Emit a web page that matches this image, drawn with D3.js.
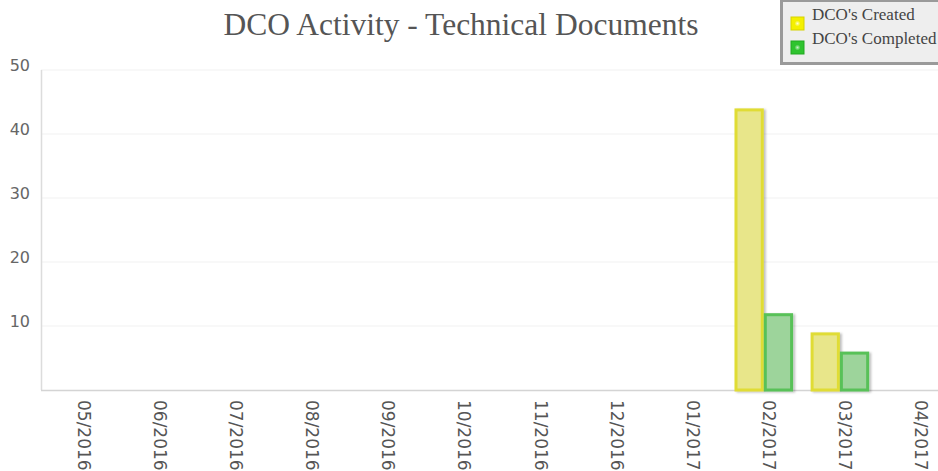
<!DOCTYPE html>
<html>
<head>
<meta charset="utf-8">
<script src="https://cdn.jsdelivr.net/npm/d3@7"></script>
<style>
  body { margin: 0; background: #fff; }
  svg { display: block; }
</style>
</head>
<body>
<svg id="chart" width="938" height="471"></svg>
<script>
// chart values
const months = ["05/2016", "06/2016", "07/2016", "08/2016", "09/2016", "10/2016",
                "11/2016", "12/2016", "01/2017", "02/2017", "03/2017", "04/2017"];
const created = [0, 0, 0, 0, 0, 0, 0, 0, 0, 44, 9, 0];
const completed = [0, 0, 0, 0, 0, 0, 0, 0, 0, 12, 6, 0];
const yTicks = [10, 20, 30, 40, 50];
const seriesNames = ["DCO's Created", "DCO's Completed"];

const svg = d3.select("#chart");
const W = 938;

const x = d3.scaleBand().domain(months).range([41, 954]).padding(0);
const y = d3.scaleLinear().domain([0, 50]).range([390, 70]);
const barW = 29.3;

// drop shadow for bars
const defs = svg.append("defs");
const f = defs.append("filter").attr("id", "shadow")
  .attr("x", "-20%").attr("y", "-5%").attr("width", "150%").attr("height", "115%");
f.append("feDropShadow").attr("dx", 2).attr("dy", 1).attr("stdDeviation", 1.2)
  .attr("flood-color", "#000").attr("flood-opacity", 0.25);

[["gYel", "#ffffd0", "#f4f000"], ["gGrn", "#c8f0c8", "#2fc42f"]].forEach(([id, c0, c1]) => {
  const g = defs.append("radialGradient").attr("id", id);
  g.append("stop").attr("offset", "0%").attr("stop-color", c0);
  g.append("stop").attr("offset", "45%").attr("stop-color", c1);
  g.append("stop").attr("offset", "100%").attr("stop-color", c1);
});

// gridlines
svg.append("g").selectAll("line")
  .data(yTicks)
  .join("line")
    .attr("x1", 41).attr("x2", W)
    .attr("y1", d => y(d)).attr("y2", d => y(d))
    .attr("stroke", "#f1f1f1");

// axes lines
svg.append("line").attr("x1", 41.5).attr("x2", 41.5).attr("y1", y(50)).attr("y2", y(0))
  .attr("stroke", "#dcdcdc").attr("stroke-width", 1.5);
svg.append("line").attr("x1", 41).attr("x2", W).attr("y1", y(0) + 0.5).attr("y2", y(0) + 0.5)
  .attr("stroke", "#d4d4d4").attr("stroke-width", 1.5);

// y labels
svg.append("g").selectAll("text")
  .data(yTicks)
  .join("text")
    .attr("x", 30)
    .attr("y", d => y(d) - 4)
    .attr("text-anchor", "end")
    .attr("dominant-baseline", "middle")
    .attr("font-family", "DejaVu Sans")
    .attr("font-size", 16)
    .attr("fill", "#666")
    .text(d => d);

// x labels
svg.append("g").selectAll("text")
  .data(months)
  .join("text")
    .attr("transform", d => `translate(${x(d) + x.bandwidth() / 2 - 1},400) rotate(90)`)
    .attr("text-anchor", "start")
    .attr("font-family", "DejaVu Sans")
    .attr("font-size", 17)
    .attr("fill", "#555")
    .text(d => d);

// bars
const series = [
  { vals: created, fill: "#e8e68a", stroke: "#e0dc34", off: -barW },
  { vals: completed, fill: "#9dd49b", stroke: "#58c158", off: 0 }
];
series.forEach(s => {
  svg.append("g").attr("filter", "url(#shadow)").selectAll("rect")
    .data(months.map((m, i) => ({ m, v: s.vals[i] })).filter(d => d.v > 0))
    .join("rect")
      .attr("x", d => x(d.m) + x.bandwidth() / 2 + s.off + 1.5)
      .attr("y", d => y(d.v) + 1.5)
      .attr("width", barW - 3)
      .attr("height", d => y(0) - y(d.v) - 1.5)
      .attr("fill", s.fill)
      .attr("stroke", s.stroke)
      .attr("stroke-width", 3);
});

// title
svg.append("text")
  .attr("x", 461).attr("y", 35)
  .attr("text-anchor", "middle")
  .attr("font-family", "Liberation Serif")
  .attr("font-size", 31.5)
  .attr("fill", "#555")
  .text("DCO Activity - Technical Documents");

// legend
const lg = svg.append("g");
lg.append("rect").attr("x", 781.5).attr("y", 0.5).attr("width", 170).attr("height", 63)
  .attr("fill", "#eeeeee").attr("stroke", "#9a9a9a").attr("stroke-width", 3);
const items = lg.selectAll("g.item")
  .data(seriesNames)
  .join("g").attr("class", "item")
  .attr("transform", (d, i) => `translate(791,${17 + i * 24})`);
items.append("rect")
  .attr("width", 13).attr("height", 13)
  .attr("fill", (d, i) => i === 0 ? "url(#gYel)" : "url(#gGrn)")
  .attr("stroke", (d, i) => i === 0 ? "#d6d200" : "#22a822")
  .attr("stroke-width", 1);
items.append("text")
  .attr("x", 21).attr("y", 3)
  .attr("font-family", "Liberation Serif")
  .attr("font-size", 17)
  .attr("fill", "#444")
  .text(d => d);
</script>
</body>
</html>
